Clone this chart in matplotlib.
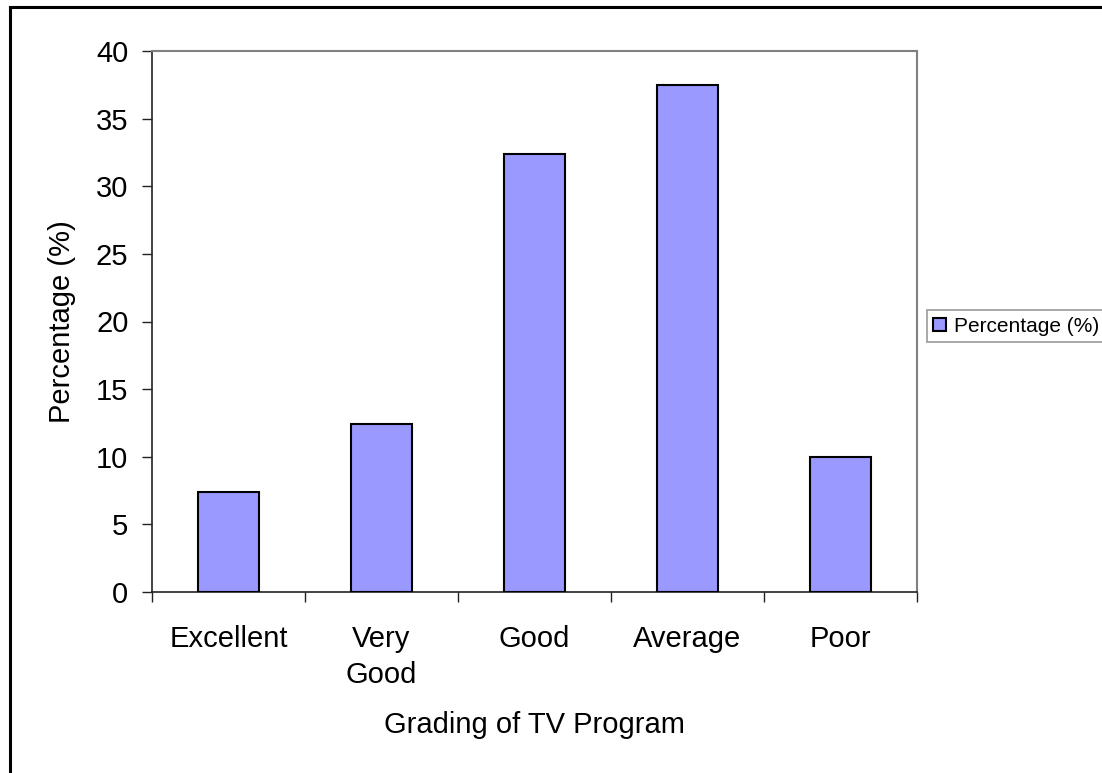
import matplotlib
matplotlib.use("Agg")
import matplotlib.pyplot as plt
import numpy as np
from matplotlib.lines import Line2D

categories = ["Excellent", "Very\nGood", "Good", "Average", "Poor"]
values = [7.4, 12.4, 32.4, 37.5, 10.0]
series_name = "Percentage (%)"
yticks = [0, 5, 10, 15, 20, 25, 30, 35, 40]

plt.rcParams['font.family'] = ['Liberation Sans', 'DejaVu Sans']

W, H = 1102, 773
fig = plt.figure(figsize=(W / 100, H / 100), dpi=100)
ax = fig.add_axes([152 / W, 1 - 592 / H, (917 - 152) / W, (592 - 51) / H])

x = np.arange(len(categories))
ax.bar(x, values, width=0.4, color="#9999FF", edgecolor="black", linewidth=1.5,
       label=series_name, zorder=3)

ax.set_xlim(-0.5, len(categories) - 0.5)
ax.set_ylim(0, 40)
ax.set_yticks(yticks)
ax.set_yticklabels([str(t) for t in yticks])
ax.set_xticks(x)
ax.set_xticklabels(categories, linespacing=1.35)
ax.set_xticks(np.arange(len(categories) + 1) - 0.5, minor=True)

ax.tick_params(axis='y', direction='out', length=7, width=1, color='#222222',
               labelsize=21, pad=10)
ax.tick_params(axis='x', which='major', length=0, labelsize=21, pad=24)
ax.tick_params(axis='x', which='minor', direction='out', length=7, width=1,
               color='#222222')

for s in ['left', 'bottom']:
    ax.spines[s].set_color('#222222')
    ax.spines[s].set_linewidth(1.2)
for s in ['top', 'right']:
    ax.spines[s].set_color('#808080')
    ax.spines[s].set_linewidth(1.5)

ax.set_xlabel("Grading of TV Program", fontsize=21, labelpad=16)
ax.set_ylabel("Percentage (%)", fontsize=21, labelpad=14)

leg = fig.legend(loc='center left', bbox_to_anchor=(927 / W, 1 - 326 / H),
                 fontsize=15, frameon=True, fancybox=False, handlelength=0.6,
                 handleheight=0.6, handletextpad=0.4, borderpad=0.3,
                 borderaxespad=0)
leg.get_frame().set_edgecolor('#808080')
leg.get_frame().set_linewidth(1.2)

# outer chart frame
fig.add_artist(Line2D([10 / W, 10 / W], [0, 1 - 7 / H], color='black', lw=2.2,
                      transform=fig.transFigure))
fig.add_artist(Line2D([10 / W, 1], [1 - 7 / H, 1 - 7 / H], color='black', lw=2.2,
                      transform=fig.transFigure))

fig.savefig("out.png", dpi=100)
